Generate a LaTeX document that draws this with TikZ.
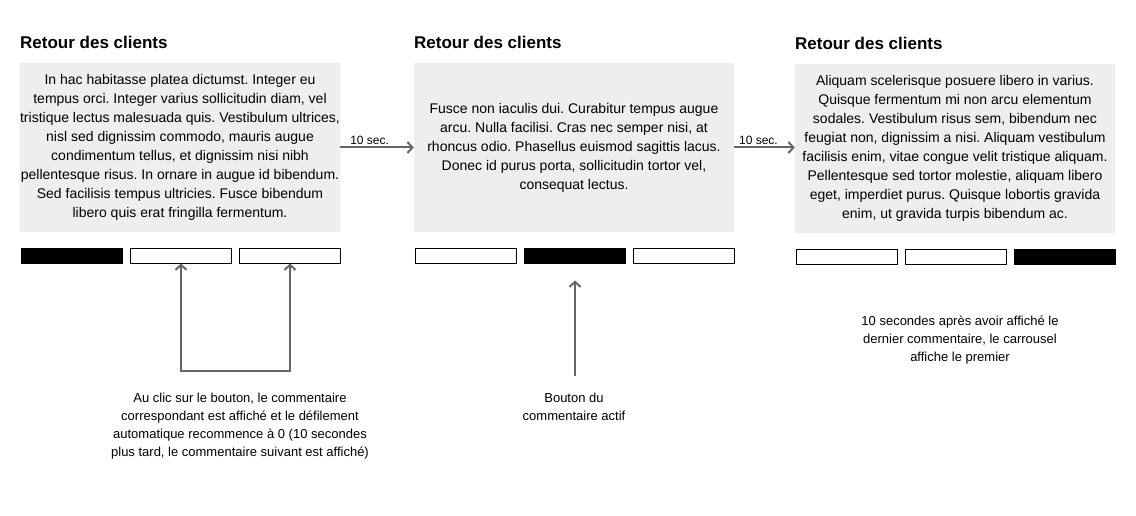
\documentclass[tikz,border=0pt]{standalone}
\usepackage{fontspec}
\setmainfont{Liberation Sans}
\usetikzlibrary{arrows.meta}
\definecolor{boxgray}{HTML}{EEEEEE}
\definecolor{arrowgray}{HTML}{666666}
\frenchspacing

\begin{document}
\begin{tikzpicture}[x=1pt,y=-1pt,
	title/.style={anchor=base west, inner sep=0pt, font=\fontsize{17}{20}\selectfont\bfseries},
	panel/.style={fill=boxgray, minimum width=320pt, minimum height=169pt, inner sep=0pt, align=center, font=\fontsize{14}{19}\selectfont},
	dot/.style={draw=black, line width=1pt, minimum width=101pt, minimum height=15pt, inner sep=0pt},
	on/.style={dot, fill=black},
	note/.style={align=center, inner sep=0pt, font=\fontsize{13}{18}\selectfont},
	link/.style={draw=arrowgray, line width=2pt, >={Straight Barb[length=5pt,width=11pt]}, ->}]
	\useasboundingbox (0,0) rectangle (1136,516);
	% first panel
	\node[title] (t1) at (20,49) {Retour des clients};
	\node[panel] (box1) at (180,147.5) {In hac habitasse platea dictumst. Integer eu\\
		tempus orci. Integer varius sollicitudin diam, vel\\
		tristique lectus malesuada quis. Vestibulum ultrices,\\
		nisl sed dignissim commodo, mauris augue\\
		condimentum tellus, et dignissim nisi nibh\\
		pellentesque risus. In ornare in augue id bibendum.\\
		Sed facilisis tempus ultricies. Fusce bibendum\\
		libero quis erat fringilla fermentum.};
	\node[on] (b11) at (71.5,255.5) {};
	\node[dot] (b12) at (181,255.5) {};
	\node[dot] (b13) at (290,255.5) {};
	% second panel
	\node[title] (t2) at (414,49) {Retour des clients};
	\node[panel] (box2) at (574,147.5) {Fusce non iaculis dui. Curabitur tempus augue\\
		arcu. Nulla facilisi. Cras nec semper nisi, at\\
		rhoncus odio. Phasellus euismod sagittis lacus.\\
		Donec id purus porta, sollicitudin tortor vel,\\
		consequat lectus.};
	\node[dot] (b21) at (465.5,255.5) {};
	\node[on] (b22) at (575,255.5) {};
	\node[dot] (b23) at (684,255.5) {};
	% third panel
	\node[title] (t3) at (795,50) {Retour des clients};
	\node[panel] (box3) at (955,148.5) {Aliquam scelerisque posuere libero in varius.\\
		Quisque fermentum mi non arcu elementum\\
		sodales. Vestibulum risus sem, bibendum nec\\
		feugiat non, dignissim a nisi. Aliquam vestibulum\\
		facilisis enim, vitae congue velit tristique aliquam.\\
		Pellentesque sed tortor molestie, aliquam libero\\
		eget, imperdiet purus. Quisque lobortis gravida\\
		enim, ut gravida turpis bibendum ac.};
	\node[dot] (b31) at (846.5,256.5) {};
	\node[dot] (b32) at (956,256.5) {};
	\node[on] (b33) at (1065,256.5) {};
	% timing arrows
	\draw[link] (box1.east) -- (box2.west) node[pos=0.4, above=2pt, inner sep=0pt, font=\fontsize{12}{14}\selectfont, text=black] {10 sec.};
	\draw[link] (box2.east) -- (box3.west |- box2.east) node[pos=0.4, above=2pt, inner sep=0pt, font=\fontsize{12}{14}\selectfont, text=black] {10 sec.};
	% notes
	\node[note] (n1) at (240,426) {Au clic sur le bouton, le commentaire\\
		correspondant est affiché et le défilement\\
		automatique recommence à 0 (10 secondes\\
		plus tard, le commentaire suivant est affiché)};
	\node[note] (n2) at (574,407) {Bouton du\\commentaire actif};
	\node[note] (n3) at (960,340) {10 secondes après avoir affiché le\\
		dernier commentaire, le carrousel\\
		affiche le premier};
	\coordinate (turn) at (236,371);
	\coordinate (foot) at (575,376);
	\draw[link, <->] (b12.south) |- (turn) -| (b13.south);
	\draw[link, shorten >=17pt] (foot) -- (b22.south);
\end{tikzpicture}
\end{document}
